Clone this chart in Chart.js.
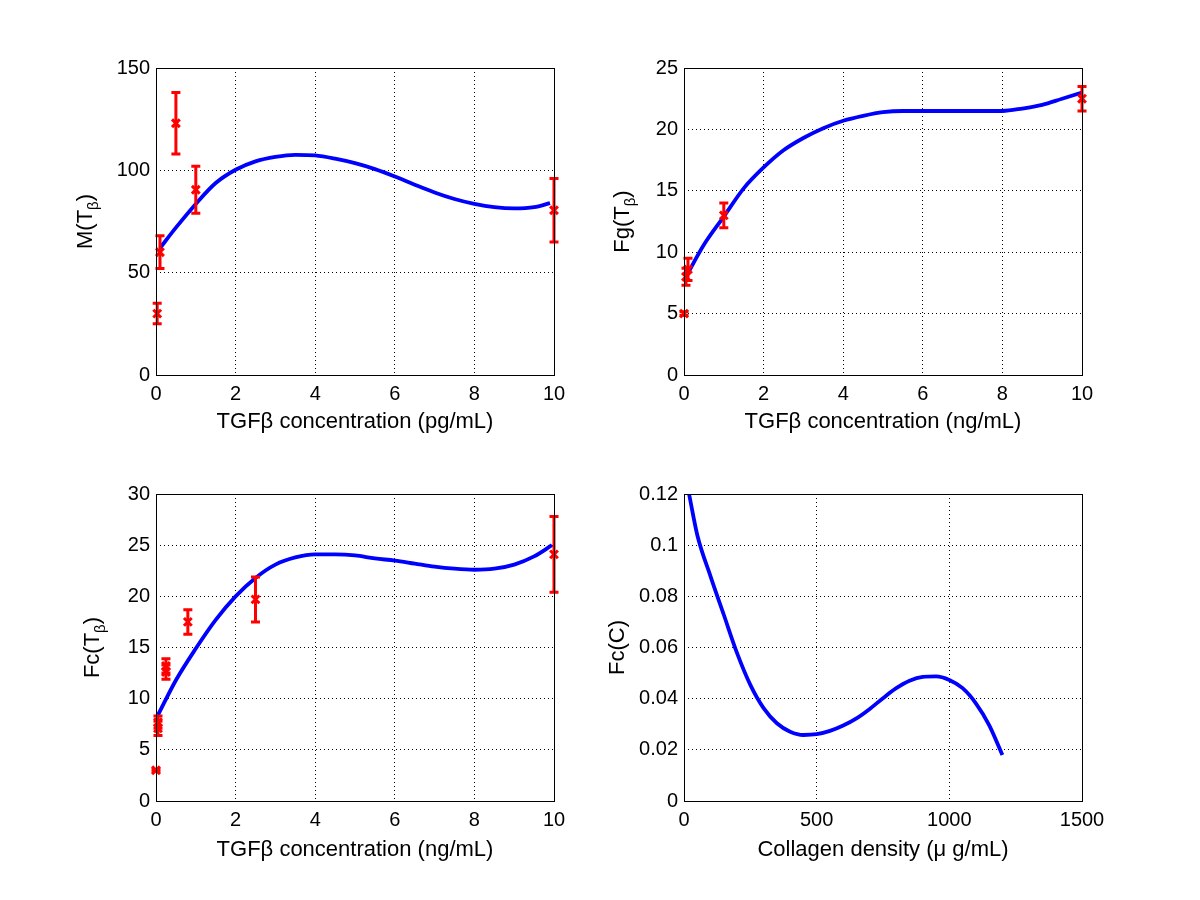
<!DOCTYPE html>
<html>
<head>
<meta charset="utf-8">
<script src="https://cdn.jsdelivr.net/npm/chart.js@4.4.0/dist/chart.umd.min.js"></script>
<style>
body { margin: 0; background: #fff; }
#wrap { position: relative; width: 1200px; height: 900px; }
canvas { position: absolute; }
</style>
</head>
<body>
<div id="wrap">
  <canvas id="c1" width="600" height="450" style="left:0;top:0"></canvas>
  <canvas id="c2" width="600" height="450" style="left:600px;top:0"></canvas>
  <canvas id="c3" width="600" height="450" style="left:0;top:450px"></canvas>
  <canvas id="c4" width="600" height="450" style="left:600px;top:450px"></canvas>
</div>
<script>
// panel 1: M(Tb) vs TGFb (pg/mL)
const mX = [0.03, 0.1, 0.5, 1, 10];
const mY = [30, 60, 123, 90.5, 80.5];
const mErr = [5, 8, 15, 11.5, 15.5];
const mFitX = [0.1, 0.5, 1, 1.5, 2, 2.5, 3, 3.5, 4, 4.5, 5, 5.5, 6, 6.5, 7, 7.5, 8, 8.5, 9, 9.5, 9.9];
const mFitY = [62, 72, 83.6, 93.8, 100.3, 104.4, 106.6, 107.6, 107.3, 105.7, 103.5, 100.6, 97, 93, 89.2, 86, 83.6, 82, 81.4, 82, 84];
const mYTicks = [0, 50, 100, 150];

// panel 2: Fg(Tb) vs TGFb (ng/mL)
const fgX = [0, 0.05, 0.1, 1, 10];
const fgY = [5, 8, 8.6, 13, 22.5];
const fgErr = [0.15, 0.7, 0.9, 1, 1];
const fgFitX = [0.05, 0.5, 1, 1.5, 2, 2.5, 3, 3.5, 4, 4.5, 5, 5.5, 6, 6.5, 7, 7.5, 8, 8.5, 9, 9.5, 10];
const fgFitY = [8.0, 10.6, 12.9, 15.2, 16.9, 18.3, 19.3, 20.1, 20.7, 21.1, 21.4, 21.5, 21.5, 21.5, 21.5, 21.5, 21.5, 21.7, 22.0, 22.5, 23.0];
const fgYTicks = [0, 5, 10, 15, 20, 25];

// panel 3: Fc(Tb) vs TGFb (ng/mL)
const fcX = [0, 0.05, 0.05, 0.25, 0.25, 0.8, 2.5, 10];
const fcY = [3, 7.1, 7.7, 12.6, 13.2, 17.5, 19.7, 24.1];
const fcErr = [0.1, 0.7, 0.6, 0.7, 0.7, 1.2, 2.2, 3.7];
const fcFitX = [0.05, 0.5, 1, 1.5, 2, 2.5, 3, 3.5, 4, 4.5, 5, 5.5, 6, 6.5, 7, 7.5, 8, 8.5, 9, 9.5, 9.95];
const fcFitY = [8.4, 11.8, 14.9, 17.7, 20.0, 21.8, 23.1, 23.8, 24.1, 24.1, 24.0, 23.7, 23.5, 23.2, 22.9, 22.7, 22.6, 22.7, 23.1, 23.9, 25.0];
const fcYTicks = [0, 5, 10, 15, 20, 25, 30];

// panel 4: Fc(C) vs collagen density
const colX = [19, 50, 100, 150, 200, 250, 300, 350, 400, 450, 500, 550, 600, 650, 700, 750, 800, 850, 900, 950, 1000, 1050, 1100, 1150, 1200];
const colY = [0.12, 0.104, 0.0878, 0.0728, 0.0578, 0.0454, 0.0363, 0.0304, 0.0271, 0.0258, 0.0261, 0.0274, 0.0295, 0.0323, 0.036, 0.0402, 0.0441, 0.047, 0.0485, 0.0487, 0.0473, 0.0441, 0.0382, 0.0297, 0.018];
const colYTicks = [0, 0.02, 0.04, 0.06, 0.08, 0.1, 0.12];

const tgfTicks = [0, 2, 4, 6, 8, 10];
const colXTicks = [0, 500, 1000, 1500];

const FONT = 'Arial, "Liberation Sans", Helvetica, sans-serif';
Chart.defaults.color = '#000';
Chart.defaults.font.family = FONT;

const boxPlugin = {
  id: 'box',
  afterDraw(chart) {
    const a = chart.chartArea;
    const ctx = chart.ctx;
    ctx.save();
    ctx.strokeStyle = '#000';
    ctx.lineWidth = 1;
    ctx.strokeRect(Math.round(a.left) + 0.5, Math.round(a.top) + 0.5,
      Math.round(a.right - a.left), Math.round(a.bottom - a.top));
    ctx.restore();
  }
};

const errPlugin = {
  id: 'errbars',
  afterDatasetsDraw(chart, args, opts) {
    if (!opts.err) return;
    const ctx = chart.ctx;
    const xs = chart.scales.x, ys = chart.scales.y;
    const pts = chart.data.datasets[0].data;
    ctx.save();
    ctx.strokeStyle = '#ff0000';
    ctx.lineWidth = 3;
    pts.forEach((p, i) => {
      const e = opts.err[i];
      const px = xs.getPixelForValue(p.x);
      const top = ys.getPixelForValue(p.y + e);
      const bot = ys.getPixelForValue(p.y - e);
      ctx.beginPath();
      ctx.moveTo(px, top); ctx.lineTo(px, bot);
      ctx.moveTo(px - 4.5, top); ctx.lineTo(px + 4.5, top);
      ctx.moveTo(px - 4.5, bot); ctx.lineTo(px + 4.5, bot);
      ctx.stroke();
    });
    ctx.restore();
  }
};

// y label with subscript, drawn rotated
const yTitlePlugin = {
  id: 'yTitle',
  afterDraw(chart, args, opts) {
    const ctx = chart.ctx;
    const a = chart.chartArea;
    const cy = (a.top + a.bottom) / 2;
    const big = '22px ' + FONT, small = '15px ' + FONT;
    let total = 0;
    opts.parts.forEach(p => {
      ctx.font = p.sub ? small : big;
      total += ctx.measureText(p.t).width;
    });
    ctx.save();
    ctx.translate(opts.x, cy);
    ctx.rotate(-Math.PI / 2);
    ctx.fillStyle = '#000';
    ctx.textBaseline = 'alphabetic';
    let x = -total / 2;
    opts.parts.forEach(p => {
      ctx.font = p.sub ? small : big;
      ctx.fillText(p.t, x, p.sub ? 6 : 0);
      x += ctx.measureText(p.t).width;
    });
    ctx.restore();
  }
};

function fmt(v) {
  return String(+Number(v).toFixed(4));
}

function makePanel(id, cfg) {
  const pts = cfg.x.map((v, i) => ({x: v, y: cfg.y[i]}));
  const fit = cfg.fitX.map((v, i) => ({x: v, y: cfg.fitY[i]}));
  const datasets = [];
  if (cfg.x.length) {
    datasets.push({
      data: pts,
      showLine: false,
      pointStyle: 'crossRot',
      pointRadius: 5.5,
      pointBorderWidth: 3,
      borderColor: '#ff0000',
      backgroundColor: '#ff0000',
      clip: false
    });
  }
  datasets.push({
    data: fit,
    showLine: true,
    pointRadius: 0,
    borderColor: '#0000ff',
    borderWidth: 3.8,
    cubicInterpolationMode: 'monotone',
    clip: 0
  });
  return new Chart(document.getElementById(id), {
    type: 'scatter',
    data: { datasets },
    options: {
      responsive: false,
      animation: false,
      events: [],
      layout: { padding: { left: 0, top: cfg.top, right: cfg.right, bottom: 0 } },
      plugins: {
        legend: { display: false },
        tooltip: { enabled: false },
        errbars: { err: cfg.err },
        yTitle: { x: cfg.titleX, parts: cfg.title }
      },
      scales: {
        x: {
          type: 'linear',
          min: cfg.xTicks[0],
          max: cfg.xTicks[cfg.xTicks.length - 1],
          afterBuildTicks: s => { s.ticks = cfg.xTicks.map(v => ({value: v})); },
          afterFit: s => { s.height = cfg.xH; },
          ticks: { autoSkip: false, maxRotation: 0, padding: 7, font: { size: 20 }, callback: fmt },
          grid: { color: '#000', lineWidth: 1, drawTicks: false },
          border: { display: false, dash: [1, 3] },
          title: { display: true, text: cfg.xTitle, font: { size: 22 }, padding: { top: 0, bottom: cfg.xTitlePad } }
        },
        y: {
          type: 'linear',
          min: cfg.yTicks[0],
          max: cfg.yTicks[cfg.yTicks.length - 1],
          afterBuildTicks: s => { s.ticks = cfg.yTicks.map(v => ({value: v})); },
          afterFit: s => { s.width = cfg.yW; },
          ticks: { autoSkip: false, padding: 6, font: { size: 20 }, callback: fmt },
          grid: { color: '#000', lineWidth: 1, drawTicks: false },
          border: { display: false, dash: [1, 3] }
        }
      }
    },
    plugins: [errPlugin, boxPlugin, yTitlePlugin]
  });
}

makePanel('c1', {
  x: mX, y: mY, err: mErr, fitX: mFitX, fitY: mFitY,
  xTicks: tgfTicks, yTicks: mYTicks,
  top: 68, right: 46, yW: 156, xH: 75, xTitlePad: 15,
  xTitle: 'TGFβ concentration (pg/mL)',
  titleX: 92, title: [{t: 'M(T'}, {t: 'β', sub: true}, {t: ')'}]
});
makePanel('c2', {
  x: fgX, y: fgY, err: fgErr, fitX: fgFitX, fitY: fgFitY,
  xTicks: tgfTicks, yTicks: fgYTicks,
  top: 68, right: 118, yW: 84, xH: 75, xTitlePad: 15,
  xTitle: 'TGFβ concentration (ng/mL)',
  titleX: 29, title: [{t: 'Fg(T'}, {t: 'β', sub: true}, {t: ')'}]
});
makePanel('c3', {
  x: fcX, y: fcY, err: fcErr, fitX: fcFitX, fitY: fcFitY,
  xTicks: tgfTicks, yTicks: fcYTicks,
  top: 44, right: 46, yW: 156, xH: 99, xTitlePad: 37,
  xTitle: 'TGFβ concentration (ng/mL)',
  titleX: 99, title: [{t: 'Fc(T'}, {t: 'β', sub: true}, {t: ')'}]
});
makePanel('c4', {
  x: [], y: [], err: null, fitX: colX, fitY: colY,
  xTicks: colXTicks, yTicks: colYTicks,
  top: 44, right: 118, yW: 84, xH: 99, xTitlePad: 37,
  xTitle: 'Collagen density (μ g/mL)',
  titleX: 24, title: [{t: 'Fc(C)'}]
});
</script>
</body>
</html>
